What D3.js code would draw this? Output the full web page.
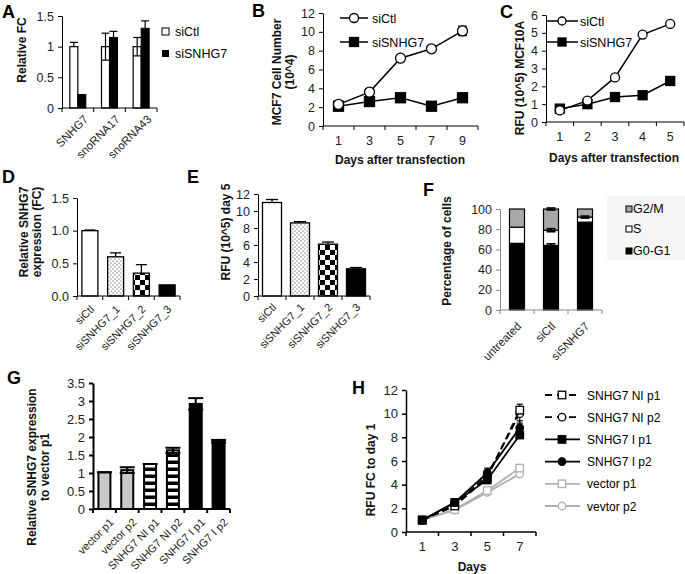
<!DOCTYPE html>
<html><head><meta charset="utf-8">
<script src="https://cdn.jsdelivr.net/npm/d3@7"></script>
<style>
body{margin:0;background:#fff}
text{font-family:"Liberation Sans",Arial,Helvetica,sans-serif}
</style></head><body>
<svg id="c" width="685" height="574"></svg>
<script>
// ---------------- DATA ----------------
const A_cats=["SNHG7","snoRNA17","snoRNA43"];
const A_siCtl=[1.0,1.0,1.0];
const A_siCtl_errHi=[0.07,0.22,0.15];
const A_siCtl_errLo=[0,0.22,0.15];
const A_siSNHG7=[0.22,1.15,1.30];
const A_siSNHG7_err=[0,0.10,0.12];
const A_yTicks=[0,0.5,1,1.5];
const A_yLabels=["0","0.5","1","1.5"];

const B_days=["1","3","5","7","9"];
const B_siCtl=[2.3,3.6,7.2,8.2,10.1];
const B_siCtl_err=[0.15,0.2,0.25,0.25,0.5];
const B_siSNHG7=[2.1,2.6,3.0,2.1,3.0];
const B_yTicks=[0,2,4,6,8,10,12];

const C_days=["1","2","3","4","5"];
const C_siCtl=[0.65,1.2,2.5,4.9,5.5];
const C_siSNHG7=[0.75,1.0,1.4,1.5,2.3];
const C_yTicks=[0,1,2,3,4,5,6];

const DE_cats=["siCtl","siSNHG7_1","siSNHG7_2","siSNHG7_3"];
const D_vals=[1.0,0.6,0.35,0.17];
const D_err=[0.01,0.06,0.13,0];
const D_yTicks=[0,0.5,1.0,1.5];
const E_vals=[11.0,8.6,6.1,3.2];
const E_err=[0.35,0.15,0.25,0.15];
const E_yTicks=[0,2,4,6,8,10,12];

const F_cats=["untreated","siCtl","siSNHG7"];
const F_G0G1=[66,64,87];
const F_S=[16,15,5];
const F_G2M=[18,21,8];
const F_errG0G1=[0,1.5,0];
const F_errS=[0,1.5,1];
const F_errG2M=[0,1,0];
const F_phases=["G2/M","S","G0-G1"];
const F_yTicks=[0,20,40,60,80,100];

const G_cats=["vector p1","vector p2","SNHG7 NI p1","SNHG7 NI p2","SNHG7 I p1","SNHG7 I p2"];
const G_vals=[1.02,1.08,1.25,1.63,2.92,1.88];
const G_err=[0,0.08,0,0.07,0.16,0.04];
const G_yTicks=[0,0.5,1,1.5,2,2.5,3,3.5];

const H_days=["1","3","5","7"];
const H_names=["SNHG7 NI p1","SNHG7 NI p2","SNHG7 I p1","SNHG7 I p2","vector p1","vevtor p2"];
const H_NIp1=[1.0,2.2,4.6,10.3];
const H_NIp2=[1.0,2.3,4.8,10.0];
const H_Ip1=[1.0,2.5,4.4,8.2];
const H_Ip2=[1.0,2.5,5.0,8.8];
const H_vecp1=[1.05,1.9,3.5,5.4];
const H_vecp2=[1.0,1.85,3.35,4.9];
const H_errNIp1=[0.05,0.1,0.2,0.3];
const H_errNIp2=[0.05,0.1,0.2,0.8];
const H_errIp1=[0.05,0.1,0.3,0.3];
const H_errIp2=[0.05,0.1,0.4,0.6];
const H_errVec1=[0.05,0.1,0.1,0.2];
const H_errVec2=[0.05,0.1,0.1,0.15];
const H_yTicks=[0,2,4,6,8,10,12];

// ---------------- HELPERS ----------------
const svg=d3.select("#c");
svg.append("rect").attr("width",685).attr("height",574).attr("fill","#fff");
const TFS=12.5;
const defs=svg.append("defs");
const pd=defs.append("pattern").attr("id","dots").attr("patternUnits","userSpaceOnUse").attr("width",4).attr("height",4);
pd.append("rect").attr("width",4).attr("height",4).attr("fill","#fff");
pd.append("circle").attr("cx",1).attr("cy",1).attr("r",0.6).attr("fill","#222");
pd.append("circle").attr("cx",3).attr("cy",3).attr("r",0.6).attr("fill","#222");
const pc=defs.append("pattern").attr("id","check").attr("patternUnits","userSpaceOnUse").attr("width",10).attr("height",10);
pc.append("rect").attr("width",10).attr("height",10).attr("fill","#fff");
pc.append("rect").attr("width",5).attr("height",5).attr("fill","#000");
pc.append("rect").attr("x",5).attr("y",5).attr("width",5).attr("height",5).attr("fill","#000");
const pl=defs.append("pattern").attr("id","ladder").attr("patternUnits","userSpaceOnUse").attr("width",20).attr("height",7);
pl.append("rect").attr("width",20).attr("height",7).attr("fill","#000");
pl.append("rect").attr("y",2).attr("width",20).attr("height",3.5).attr("fill","#fff");

function letter(t,x,y){svg.append("text").attr("x",x).attr("y",y).attr("font-size",18).attr("font-weight","bold").text(t);}
function yTitle(lines,x,cy,lh=13){
  const t=svg.append("text").attr("transform",`translate(${x},${cy}) rotate(-90)`).attr("text-anchor","middle")
    .attr("font-size",12).attr("font-weight","bold").attr("fill","#111");
  lines.forEach((l,i)=>t.append("tspan").attr("x",0).attr("y",(i-(lines.length-1)/2)*lh+4).text(l));
}
function xTitle(s,x,y){svg.append("text").attr("x",x).attr("y",y).attr("text-anchor","middle").attr("font-size",12).attr("font-weight","bold").attr("fill","#111").text(s);}
function yAxis(y,x0,ticks,fmt,o={}){
  const col=o.color||"#000",w=o.w||1;
  const g=svg.append("g").attr("transform",`translate(${x0},0)`)
    .call(d3.axisLeft(y).tickValues(ticks).tickFormat(fmt).tickSize(o.ts||4).tickSizeOuter(0).tickPadding(4));
  g.select(".domain").attr("stroke",col).attr("stroke-width",w);
  g.selectAll(".tick line").attr("stroke",col).attr("stroke-width",w);
  g.selectAll(".tick text").attr("font-size",o.fs||TFS).attr("font-family",'"Liberation Sans",Arial,sans-serif').attr("fill","#222");
}
function xAxis(x,y0,o={}){
  const col=o.color||"#000",w=o.w||1;
  const [r0,r1]=x.range(),bw=x.bandwidth();
  const g=svg.append("g");
  g.append("line").attr("x1",r0).attr("x2",r1).attr("y1",y0).attr("y2",y0).attr("stroke",col).attr("stroke-width",w);
  const dom=x.domain();
  const bounds=dom.map(d=>x(d)).concat([x(dom[dom.length-1])+bw]);
  bounds.forEach(b=>g.append("line").attr("x1",b).attr("x2",b).attr("y1",y0).attr("y2",y0+(o.ts||4)).attr("stroke",col).attr("stroke-width",w));
  dom.forEach(d=>{
    const cx=x(d)+bw/2;
    if(o.rot){
      g.append("text").attr("transform",`translate(${cx+o.dx},${y0+o.dy}) rotate(-45)`).attr("text-anchor","end")
        .attr("font-size",o.fs||11).attr("fill","#222").text(d);
    } else {
      g.append("text").attr("x",cx).attr("y",y0+19).attr("text-anchor","middle").attr("font-size",o.fs||TFS).attr("fill","#222").text(d);
    }
  });
}
function errBar(cx,yTop,yBot,cap,o={}){
  const col=o.color||"#000",w=o.w||1.2;
  svg.append("line").attr("x1",cx).attr("x2",cx).attr("y1",yTop).attr("y2",yBot).attr("stroke",col).attr("stroke-width",w);
  svg.append("line").attr("x1",cx-cap/2).attr("x2",cx+cap/2).attr("y1",yTop).attr("y2",yTop).attr("stroke",col).attr("stroke-width",w);
  if(o.both) svg.append("line").attr("x1",cx-cap/2).attr("x2",cx+cap/2).attr("y1",yBot).attr("y2",yBot).attr("stroke",col).attr("stroke-width",w);
}
function marker(type,cx,cy,s,fill,stroke,sw=1.3){
  if(type==="sq") svg.append("rect").attr("x",cx-s/2).attr("y",cy-s/2).attr("width",s).attr("height",s).attr("fill",fill).attr("stroke",stroke).attr("stroke-width",sw);
  else svg.append("circle").attr("cx",cx).attr("cy",cy).attr("r",s/2).attr("fill",fill).attr("stroke",stroke).attr("stroke-width",sw);
}
function series(x,y,vals,o){
  const bw=x.bandwidth(),dom=x.domain();
  const pts=vals.map((v,i)=>[x(dom[i])+bw/2,y(v)]);
  svg.append("path").attr("d",d3.line()(pts)).attr("fill","none").attr("stroke",o.color).attr("stroke-width",o.lw||1.5)
    .attr("stroke-dasharray",o.dash||null);
  if(o.err) vals.forEach((v,i)=>{ if(o.err[i]>0) errBar(pts[i][0],y(v+o.err[i]),y(v-o.err[i]),o.cap||7,{both:true,color:o.color,w:1.2});});
  pts.forEach(p=>marker(o.m,p[0],p[1],o.ms,o.fill,o.color,o.msw||1.3));
}

// ---------------- PANEL A ----------------
{
  const x=d3.scaleBand().domain(A_cats).range([62,157]);
  const y=d3.scaleLinear().domain([0,1.5]).range([108,16]);
  const inner=d3.scaleBand().domain(["siCtl","siSNHG7"]).range([0,16]);
  const off=(x.bandwidth()-16)/2;
  A_cats.forEach((c,i)=>{
    const x1=x(c)+off+inner("siCtl"), x2=x(c)+off+inner("siSNHG7"), bw=inner.bandwidth();
    svg.append("rect").attr("x",x1).attr("y",y(A_siCtl[i])).attr("width",bw).attr("height",y(0)-y(A_siCtl[i])).attr("fill","#fff").attr("stroke","#000").attr("stroke-width",1.2);
    svg.append("rect").attr("x",x2).attr("y",y(A_siSNHG7[i])).attr("width",bw).attr("height",y(0)-y(A_siSNHG7[i])).attr("fill","#000").attr("stroke","#000");
    errBar(x1+bw/2,y(A_siCtl[i]+A_siCtl_errHi[i]),y(A_siCtl[i]-A_siCtl_errLo[i]),bw,{both:A_siCtl_errLo[i]>0});
    if(A_siSNHG7_err[i]>0) errBar(x2+bw/2,y(A_siSNHG7[i]+A_siSNHG7_err[i]),y(A_siSNHG7[i]),bw);
  });
  yAxis(y,62,A_yTicks,(d,i)=>A_yLabels[i]);
  xAxis(x,108,{rot:true,dx:11,dy:12,fs:11.5});
  yTitle(["Relative FC"],22,50);
  svg.append("rect").attr("x",162).attr("y",28).attr("width",7).attr("height",7).attr("fill","#fff").attr("stroke","#000");
  svg.append("rect").attr("x",162).attr("y",50).attr("width",7).attr("height",7).attr("fill","#000");
  svg.append("text").attr("x",175).attr("y",36).attr("font-size",12.5).text("siCtl");
  svg.append("text").attr("x",175).attr("y",58).attr("font-size",12.5).text("siSNHG7");
  letter("A",2,18);
}

// ---------------- PANEL B ----------------
{
  const x=d3.scaleBand().domain(B_days).range([323,478]);
  const y=d3.scaleLinear().domain([0,12]).range([126,13]);
  yAxis(y,323,B_yTicks,d3.format("d"));
  xAxis(x,126,{});
  series(x,y,B_siSNHG7,{color:"#000",m:"sq",ms:10,fill:"#000"});
  series(x,y,B_siCtl,{color:"#000",m:"c",ms:10,fill:"#fff",err:B_siCtl_err,cap:9});
  yTitle(["MCF7 Cell Number","(10^4)"],283,72);
  xTitle("Days after transfection",400,164);
  svg.append("line").attr("x1",340).attr("x2",368).attr("y1",18).attr("y2",18).attr("stroke","#000").attr("stroke-width",1.5);
  marker("c",354,18,9,"#fff","#000");
  svg.append("line").attr("x1",340).attr("x2",368).attr("y1",42).attr("y2",42).attr("stroke","#000").attr("stroke-width",1.5);
  marker("sq",354,42,9,"#000","#000");
  svg.append("text").attr("x",372).attr("y",23).attr("font-size",12.5).text("siCtl");
  svg.append("text").attr("x",372).attr("y",47).attr("font-size",12.5).text("siSNHG7");
  letter("B",252,17);
}

// ---------------- PANEL C ----------------
{
  const x=d3.scaleBand().domain(C_days).range([546,684]);
  const y=d3.scaleLinear().domain([0,6]).range([122,15]);
  yAxis(y,546,C_yTicks,d3.format("d"));
  xAxis(x,122,{});
  series(x,y,C_siSNHG7,{color:"#000",m:"sq",ms:9,fill:"#000"});
  series(x,y,C_siCtl,{color:"#000",m:"c",ms:9,fill:"#fff"});
  yTitle(["RFU (10^5) MCF10A"],520,78);
  xTitle("Days after transfection",614,162);
  svg.append("line").attr("x1",546).attr("x2",578).attr("y1",21).attr("y2",21).attr("stroke","#000").attr("stroke-width",1.5);
  marker("c",562,21,8,"#fff","#000");
  svg.append("line").attr("x1",546).attr("x2",578).attr("y1",42).attr("y2",42).attr("stroke","#000").attr("stroke-width",1.5);
  marker("sq",562,42,8,"#000","#000");
  svg.append("text").attr("x",580).attr("y",26).attr("font-size",12.5).text("siCtl");
  svg.append("text").attr("x",580).attr("y",47).attr("font-size",12.5).text("siSNHG7");
  letter("C",500,18);
}

const fills=["#fff","url(#dots)","url(#check)","#000"];
// ---------------- PANEL D ----------------
{
  const xa=d3.scaleBand().domain(DE_cats).range([77,180]);
  const y=d3.scaleLinear().domain([0,1.5]).range([296,198]);
  DE_cats.forEach((c,i)=>{
    const bx=xa(c)+(xa.bandwidth()-16)/2;
    svg.append("rect").attr("x",bx).attr("y",y(D_vals[i])).attr("width",16).attr("height",y(0)-y(D_vals[i])).attr("fill",fills[i]).attr("stroke","#000").attr("stroke-width",1.3);
    if(D_err[i]>0) errBar(bx+8,y(D_vals[i]+D_err[i]),y(D_vals[i]),11,{w:1.3});
  });
  yAxis(y,77,D_yTicks,d3.format(".1f"));
  xAxis(xa,296,{rot:true,dx:5,dy:14,fs:11});
  yTitle(["Relative SNHG7","expression (FC)"],30,232);
  letter("D",2,183);
}
// ---------------- PANEL E ----------------
{
  const xa=d3.scaleBand().domain(DE_cats).range([258,370]);
  const y=d3.scaleLinear().domain([0,12]).range([296,194]);
  DE_cats.forEach((c,i)=>{
    const bx=xa(c)+(xa.bandwidth()-19)/2;
    svg.append("rect").attr("x",bx).attr("y",y(E_vals[i])).attr("width",19).attr("height",y(0)-y(E_vals[i])).attr("fill",fills[i]).attr("stroke","#000").attr("stroke-width",1.3);
    errBar(bx+9.5,y(E_vals[i]+E_err[i]),y(E_vals[i]),12,{w:1.3});
  });
  yAxis(y,258,E_yTicks,d3.format("d"));
  xAxis(xa,296,{rot:true,dx:5,dy:12,fs:11});
  yTitle(["RFU (10^5) day 5"],226,232);
  letter("E",187,183);
}
// ---------------- PANEL F ----------------
{
  svg.append("rect").attr("x",607).attr("y",196).attr("width",78).attr("height",64).attr("fill","#f6f6f6");
  const xa=d3.scaleBand().domain(F_cats).range([500,602]);
  const y=d3.scaleLinear().domain([0,100]).range([310,209]);
  const stack=F_cats.map((c,i)=>[F_G0G1[i],F_S[i],F_G2M[i]]);
  const cols=["#000","#fff","#a8a8a8"];
  F_cats.forEach((c,i)=>{
    const bx=xa(c)+(xa.bandwidth()-15)/2;
    let base=0;
    stack[i].forEach((v,j)=>{
      svg.append("rect").attr("x",bx).attr("y",y(base+v)).attr("width",15).attr("height",y(base)-y(base+v)).attr("fill",cols[j]).attr("stroke","#000").attr("stroke-width",1.2);
      base+=v;
    });
    const tops=[F_G0G1[i],F_G0G1[i]+F_S[i],100];
    const errs=[F_errG0G1[i],F_errS[i],F_errG2M[i]];
    tops.forEach((t,j)=>{ if(errs[j]>0) errBar(bx+7.5,y(t+errs[j]),y(t-errs[j]),9,{both:true,w:1.6}); });
  });
  yAxis(y,500,F_yTicks,d3.format("d"),{color:"#888"});
  xAxis(xa,310,{rot:true,dx:5,dy:17,fs:11.5,color:"#888"});
  yTitle(["Percentage of cells"],447,251);
  const legCols=["#a8a8a8","#fff","#000"];
  F_phases.forEach((p,i)=>{
    const ly=[213,233,255][i];
    svg.append("rect").attr("x",626).attr("y",ly-7).attr("width",6).attr("height",6).attr("fill",legCols[i]).attr("stroke","#000");
    svg.append("text").attr("x",633).attr("y",ly).attr("font-size",12.5).text(p);
  });
  letter("F",423,196);
}
// ---------------- PANEL G ----------------
{
  const xa=d3.scaleBand().domain(G_cats).range([93,230]);
  const y=d3.scaleLinear().domain([0,3.5]).range([509,383]);
  const gf=["#c8c8c8","#c8c8c8","url(#ladder)","url(#ladder)","#000","#000"];
  G_cats.forEach((c,i)=>{
    const bx=xa(c)+(xa.bandwidth()-12)/2;
    svg.append("rect").attr("x",bx).attr("y",y(G_vals[i])).attr("width",12).attr("height",y(0)-y(G_vals[i])).attr("fill",gf[i]).attr("stroke","#000").attr("stroke-width",2);
    if(G_err[i]>0) errBar(bx+6,y(G_vals[i]+G_err[i]),y(G_vals[i]-G_err[i]),15,{both:true,w:2});
    else errBar(bx+6,y(G_vals[i]),y(G_vals[i]),15,{w:2});
  });
  yAxis(y,93,G_yTicks,d3.format("~g"),{w:2,fs:13});
  xAxis(xa,509,{rot:true,dx:10,dy:14,fs:11,w:2});
  yTitle(["Relative SNHG7 expression","to vector p1"],38,467);
  letter("G",7,384);
}
// ---------------- PANEL H ----------------
{
  const xa=d3.scaleBand().domain(H_days).range([406,536]);
  const y=d3.scaleLinear().domain([0,12]).range([532,390]);
  yAxis(y,406,H_yTicks,d3.format("d"),{w:1.5,fs:13});
  xAxis(xa,532,{w:1.5,fs:13});
  const specs=[
    {vals:H_vecp2,err:H_errVec2,color:"#b0b0b0",m:"c",fill:"#fff"},
    {vals:H_vecp1,err:H_errVec1,color:"#b0b0b0",m:"sq",fill:"#fff"},
    {vals:H_NIp2,err:H_errNIp2,color:"#000",m:"c",fill:"#fff",dash:"7,4"},
    {vals:H_NIp1,err:H_errNIp1,color:"#000",m:"sq",fill:"#fff",dash:"7,4"},
    {vals:H_Ip1,err:H_errIp1,color:"#000",m:"sq",fill:"#000"},
    {vals:H_Ip2,err:H_errIp2,color:"#000",m:"c",fill:"#000"}
  ];
  specs.forEach(s=>series(xa,y,s.vals,{color:s.color,m:s.m,ms:7.5,fill:s.fill,dash:s.dash,err:s.err,cap:6,lw:1.8}));
  yTitle(["RFU FC to day 1"],371,470);
  xTitle("Days",472,571);
  const leg=[
    {color:"#000",m:"sq",fill:"#fff",dash:"7,4"},
    {color:"#000",m:"c",fill:"#fff",dash:"7,4"},
    {color:"#000",m:"sq",fill:"#000"},
    {color:"#000",m:"c",fill:"#000"},
    {color:"#b0b0b0",m:"sq",fill:"#fff"},
    {color:"#b0b0b0",m:"c",fill:"#fff"}
  ];
  H_names.forEach((n,i)=>{
    const ly=395+i*22.2;
    svg.append("line").attr("x1",545).attr("x2",580).attr("y1",ly).attr("y2",ly).attr("stroke",leg[i].color).attr("stroke-width",1.8).attr("stroke-dasharray",leg[i].dash?"7,5":null);
    marker(leg[i].m,562,ly,7.5,leg[i].fill,leg[i].color);
    svg.append("text").attr("x",587).attr("y",ly+4.5).attr("font-size",12).text(n);
  });
  letter("H",352,394);
}
</script></body></html>
